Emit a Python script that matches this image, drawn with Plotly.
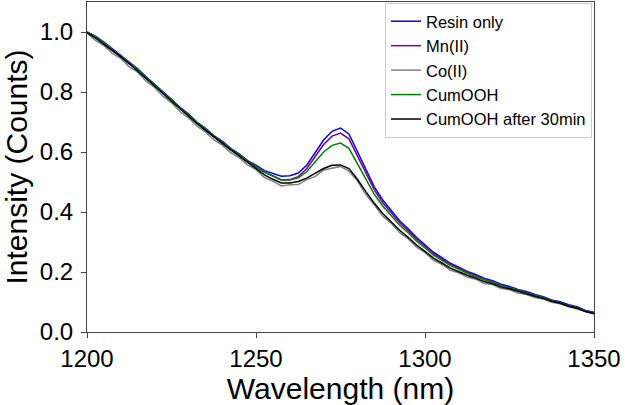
import plotly.graph_objects as go

# Wavelength grid (nm), 2.5 nm steps
wavelength = [1200 + 2.5 * i for i in range(61)]

resin_only = [1.000, 0.986, 0.966, 0.944, 0.924, 0.899, 0.877, 0.851, 0.827, 0.800,
              0.776, 0.749, 0.727, 0.700, 0.680, 0.655, 0.636, 0.612, 0.594, 0.571,
              0.556, 0.538, 0.529, 0.519, 0.521, 0.530, 0.556, 0.598, 0.640, 0.669,
              0.680, 0.660, 0.601, 0.538, 0.484, 0.440, 0.406, 0.371, 0.344, 0.315,
              0.291, 0.266, 0.248, 0.229, 0.216, 0.202, 0.192, 0.179, 0.171, 0.159,
              0.152, 0.142, 0.135, 0.125, 0.118, 0.107, 0.101, 0.091, 0.084, 0.072,
              0.066]

mn_ii = [0.999, 0.982, 0.961, 0.941, 0.919, 0.896, 0.872, 0.848, 0.822, 0.797,
         0.771, 0.746, 0.722, 0.697, 0.675, 0.651, 0.631, 0.609, 0.589, 0.568,
         0.551, 0.532, 0.520, 0.507, 0.508, 0.518, 0.544, 0.585, 0.625, 0.653,
         0.663, 0.644, 0.587, 0.526, 0.474, 0.431, 0.398, 0.364, 0.338, 0.310,
         0.286, 0.261, 0.243, 0.226, 0.213, 0.199, 0.188, 0.177, 0.167, 0.157,
         0.148, 0.140, 0.131, 0.123, 0.114, 0.105, 0.097, 0.089, 0.080, 0.070,
         0.063]

co_ii = [0.997, 0.972, 0.955, 0.929, 0.912, 0.884, 0.866, 0.836, 0.815, 0.786,
         0.764, 0.735, 0.714, 0.687, 0.667, 0.641, 0.623, 0.598, 0.581, 0.557,
         0.541, 0.515, 0.503, 0.487, 0.491, 0.492, 0.508, 0.518, 0.540, 0.546,
         0.552, 0.536, 0.504, 0.458, 0.424, 0.386, 0.363, 0.331, 0.311, 0.283,
         0.265, 0.239, 0.226, 0.206, 0.197, 0.183, 0.176, 0.162, 0.158, 0.145,
         0.141, 0.130, 0.125, 0.115, 0.110, 0.099, 0.094, 0.084, 0.077, 0.067,
         0.060]

cumooh = [1.000, 0.984, 0.963, 0.942, 0.921, 0.897, 0.874, 0.849, 0.824, 0.798,
          0.773, 0.747, 0.724, 0.698, 0.677, 0.652, 0.633, 0.610, 0.591, 0.569,
          0.552, 0.533, 0.521, 0.507, 0.507, 0.514, 0.534, 0.568, 0.600, 0.622,
          0.630, 0.612, 0.561, 0.506, 0.459, 0.420, 0.389, 0.356, 0.331, 0.303,
          0.280, 0.256, 0.239, 0.221, 0.209, 0.196, 0.186, 0.174, 0.166, 0.155,
          0.148, 0.139, 0.132, 0.122, 0.115, 0.104, 0.098, 0.088, 0.081, 0.069,
          0.063]

cumooh_30min = [0.998, 0.980, 0.959, 0.939, 0.917, 0.894, 0.870, 0.846, 0.820, 0.795,
                0.769, 0.744, 0.720, 0.695, 0.673, 0.650, 0.629, 0.607, 0.587, 0.566,
                0.546, 0.524, 0.509, 0.497, 0.497, 0.502, 0.513, 0.528, 0.545, 0.556,
                0.557, 0.545, 0.509, 0.468, 0.429, 0.395, 0.368, 0.339, 0.316, 0.290,
                0.269, 0.246, 0.230, 0.213, 0.201, 0.189, 0.180, 0.168, 0.161, 0.150,
                0.144, 0.135, 0.128, 0.119, 0.112, 0.102, 0.096, 0.086, 0.079, 0.068,
                0.062]

series_names = ["Resin only", "Mn(II)", "Co(II)", "CumOOH", "CumOOH after 30min"]
series_values = [resin_only, mn_ii, co_ii, cumooh, cumooh_30min]
series_colors = ["#0000ff", "#800080", "#808080", "#008000", "#000000"]

x_ticks = [1200, 1250, 1300, 1350]
y_ticks = [0.0, 0.2, 0.4, 0.6, 0.8, 1.0]

FONT = "Arial, Liberation Sans, sans-serif"

fig = go.Figure()
for name, vals, col in zip(series_names, series_values, series_colors):
    fig.add_trace(go.Scatter(x=wavelength, y=vals, mode="lines", name=name,
                             line=dict(color=col, width=1.5)))

axis_common = dict(showline=True, linecolor="#444444", linewidth=1, mirror=True,
                   ticks="outside", ticklen=5, tickcolor="#444444", tickwidth=1,
                   showgrid=False, zeroline=False,
                   tickfont=dict(family=FONT, size=24, color="black"))

fig.update_xaxes(range=[1200, 1350], tickvals=x_ticks,
                 title=dict(text="Wavelength (nm)", font=dict(family=FONT, size=30, color="black"),
                            standoff=0),
                 **axis_common)
fig.update_yaxes(range=[0, 1.1], tickvals=y_ticks, tickformat=".1f",
                 ticklabelstandoff=3,
                 title=dict(text="Intensity (Counts)", font=dict(family=FONT, size=30, color="black"),
                            standoff=4),
                 **axis_common)

fig.update_layout(
    width=625, height=405,
    margin=dict(l=87, r=31, t=2, b=73),
    paper_bgcolor="white", plot_bgcolor="white",
    font=dict(family=FONT, color="black"),
    legend=dict(x=0.996, y=0.997, xanchor="right", yanchor="top",
                bgcolor="rgba(255,255,255,0.85)", bordercolor="#cccccc", borderwidth=1,
                font=dict(family=FONT, size=16.5, color="black"),
                tracegroupgap=0),
    showlegend=True,
)

fig.write_html("out.html")
